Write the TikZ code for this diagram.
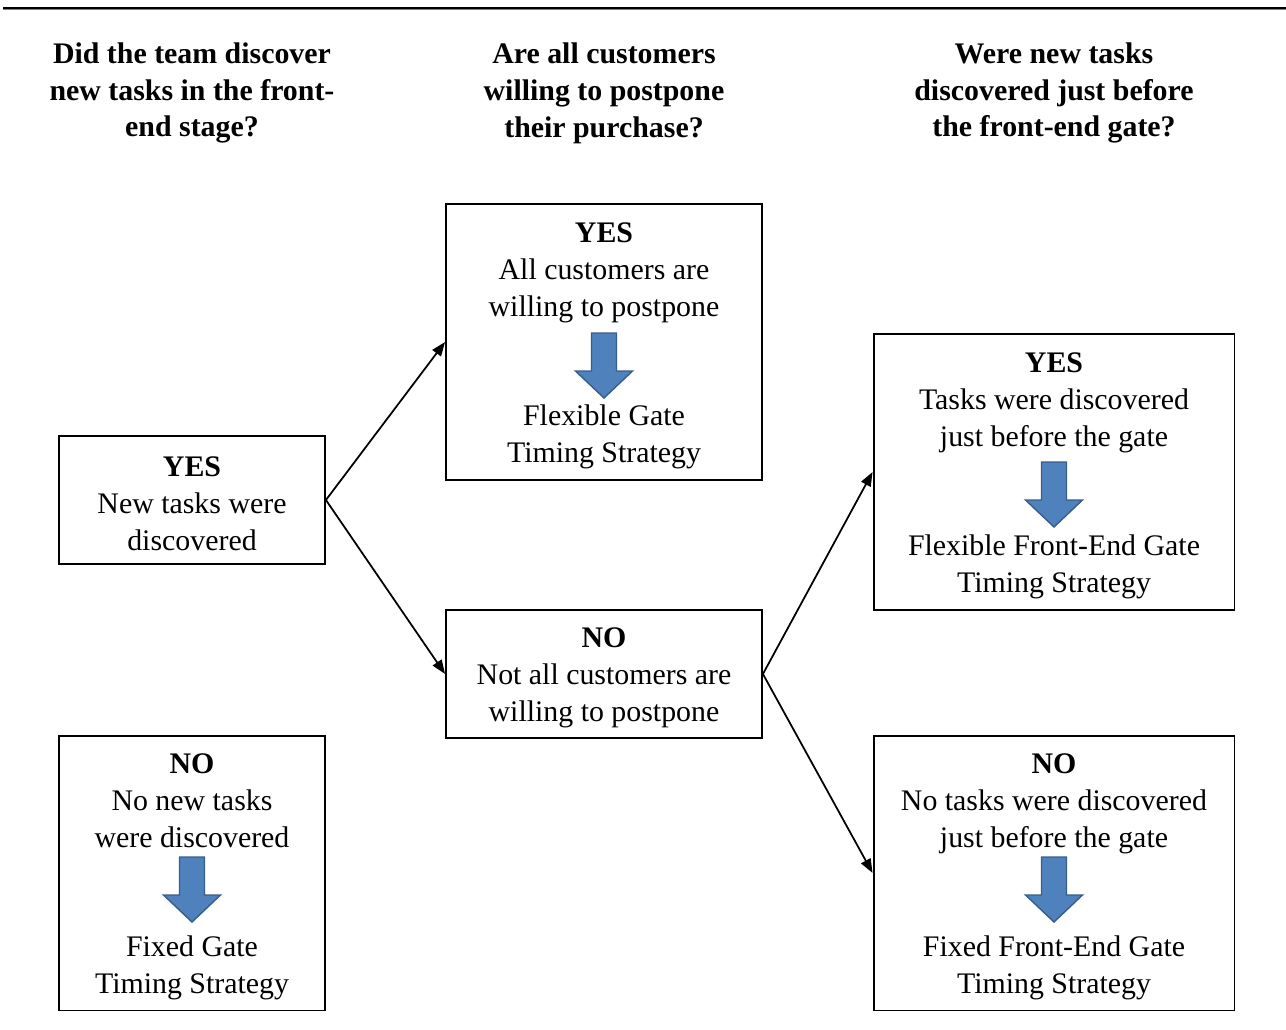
\documentclass[tikz,border=0pt]{standalone}
\usepackage{fontspec}
\setmainfont{Liberation Serif}
\usetikzlibrary{arrows.meta}
\definecolor{arrowblue}{HTML}{4F81BD}
\definecolor{arrowedge}{HTML}{385D8A}
\newcommand{\boxstrut}{\rule{0pt}{15.8pt}}
\tikzset{
	box/.style={draw, line width=1.1pt, align=center, inner sep=0pt},
	question/.style={align=center, font=\fontsize{17}{21}\selectfont\bfseries},
	downarrow/.pic={\filldraw[fill=arrowblue, draw=arrowedge, line width=0.8pt]
		(-12.5,0) -- (12.5,0) -- (12.5,38) -- (28.5,38) -- (0,65) -- (-28.5,38) -- (-12.5,38) -- cycle;}
}

\begin{document}
\begin{tikzpicture}[x=0.02cm, y=-0.02cm, font=\fontsize{17}{21}\selectfont]
	\useasboundingbox (0,0) rectangle (1286,1029);
	\draw[line width=1.3pt] (3,8) -- (1286,8);
	\draw[gray, line width=0.4pt] (3,9.8) -- (1286,9.8);
	% questions
	\node[question] (q1) at (192,93) {Did the team discover\\new tasks in the front-\\end stage?};
	\node[question] (q2) at (604,93) {Are all customers\\willing to postpone\\their purchase?};
	\node[question] (q3) at (1054,93) {Were new tasks\\discovered just before\\the front-end gate?};
	% boxes
	\node[box, minimum width=5.32cm, minimum height=2.56cm] (yes1) at (192,500)
		{\boxstrut\textbf{YES}\\New tasks were\\discovered};
	\node[box, minimum width=5.32cm, minimum height=5.5cm] (no1) at (192,873)
		{\boxstrut\textbf{NO}\\No new tasks\\were discovered\\[41pt]Fixed Gate\\Timing Strategy};
	\node[box, minimum width=6.32cm, minimum height=5.52cm] (yes2) at (604,342)
		{\boxstrut\textbf{YES}\\All customers are\\willing to postpone\\[41pt]Flexible Gate\\Timing Strategy};
	\node[box, minimum width=6.32cm, minimum height=2.56cm] (no2) at (604,674)
		{\boxstrut\textbf{NO}\\Not all customers are\\willing to postpone};
	\node[box, minimum width=7.22cm, minimum height=5.52cm] (yes3) at (1054,472)
		{\boxstrut\textbf{YES}\\Tasks were discovered\\just before the gate\\[41pt]Flexible Front-End Gate\\Timing Strategy};
	\node[box, minimum width=7.22cm, minimum height=5.5cm] (no3) at (1054,873)
		{\boxstrut\textbf{NO}\\No tasks were discovered\\just before the gate\\[41pt]Fixed Front-End Gate\\Timing Strategy};
	% block arrows
	\pic at (604,333) {downarrow};
	\pic at (1054,462) {downarrow};
	\pic at (1054,857) {downarrow};
	\pic at (192,857) {downarrow};
	% decisions
	\path[-{Triangle[length=8pt,width=6pt]}, line width=1pt]
	(yes1.east) edge (yes2.west)
		edge (no2.west)
	(no2.east) edge (yes3.west)
		edge (no3.west);
\end{tikzpicture}
\end{document}
